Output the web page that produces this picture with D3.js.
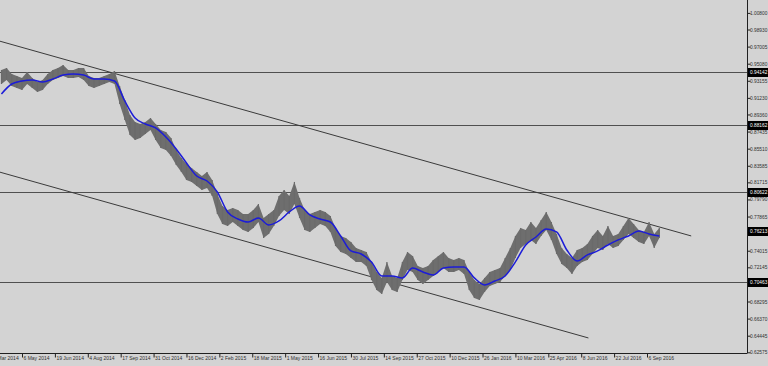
<!DOCTYPE html>
<html><head><meta charset="utf-8">
<script src="https://cdn.jsdelivr.net/npm/d3@7"></script>
<style>html,body{margin:0;padding:0;background:#d3d3d3;overflow:hidden}</style>
</head><body><svg id="c" width="768" height="366"></svg>
<script>
// ---- data (bar index: 0 = 6 May 2014, daily bars) ----
const barStart = -20, barStep = 5;
const highs = [
0.9437,0.9459,0.9392,0.9369,0.9347,0.9414,0.9347,0.9302,0.9324,0.9392,
0.9437,0.9459,0.9493,0.9437,0.9437,0.9459,0.9459,0.9369,0.9347,0.9347,
0.9369,0.9392,0.9426,0.9257,0.9099,0.8930,0.8851,0.8829,0.8851,0.8896,
0.8829,0.8761,0.8739,0.8671,0.8536,0.8446,0.8378,0.8333,0.8288,0.8243,
0.8288,0.8198,0.8041,0.7905,0.7860,0.7883,0.7860,0.7815,0.7815,0.7860,
0.7928,0.7770,0.7815,0.7860,0.8018,0.8086,0.8018,0.8176,0.7996,0.7860,
0.7815,0.7838,0.7860,0.7838,0.7793,0.7658,0.7568,0.7545,0.7500,0.7433,
0.7410,0.7387,0.7275,0.7162,0.7095,0.7275,0.7117,0.7095,0.7275,0.7387,
0.7342,0.7230,0.7207,0.7230,0.7297,0.7342,0.7387,0.7320,0.7297,0.7320,
0.7297,0.7162,0.7072,0.7027,0.7095,0.7162,0.7185,0.7207,0.7320,0.7433,
0.7568,0.7658,0.7635,0.7725,0.7658,0.7748,0.7838,0.7725,0.7590,0.7433,
0.7365,0.7320,0.7410,0.7433,0.7478,0.7568,0.7635,0.7568,0.7680,0.7568,
0.7590,0.7680,0.7770,0.7703,0.7635,0.7613,0.7725,0.7590,0.7658];
const lows = [
0.9279,0.9324,0.9257,0.9234,0.9212,0.9279,0.9234,0.9189,0.9212,0.9279,
0.9324,0.9347,0.9369,0.9347,0.9347,0.9358,0.9324,0.9257,0.9234,0.9257,
0.9279,0.9302,0.9279,0.9054,0.8874,0.8705,0.8649,0.8671,0.8716,0.8761,
0.8649,0.8559,0.8536,0.8468,0.8367,0.8288,0.8198,0.8176,0.8131,0.8086,
0.8108,0.8018,0.7815,0.7703,0.7680,0.7725,0.7680,0.7635,0.7613,0.7658,
0.7725,0.7545,0.7590,0.7680,0.7793,0.7860,0.7815,0.7928,0.7770,0.7635,
0.7613,0.7658,0.7703,0.7680,0.7613,0.7455,0.7387,0.7365,0.7320,0.7275,
0.7275,0.7230,0.7072,0.6960,0.6915,0.7050,0.6960,0.6937,0.7072,0.7185,
0.7162,0.7072,0.7027,0.7072,0.7117,0.7162,0.7207,0.7162,0.7162,0.7185,
0.7140,0.6960,0.6870,0.6847,0.6937,0.7005,0.7027,0.7050,0.7117,0.7185,
0.7320,0.7433,0.7478,0.7523,0.7478,0.7568,0.7635,0.7523,0.7365,0.7252,
0.7207,0.7140,0.7230,0.7275,0.7297,0.7365,0.7433,0.7410,0.7478,0.7433,
0.7455,0.7523,0.7590,0.7545,0.7500,0.7478,0.7568,0.7433,0.7545];
const maStart = -20, maStep = 10;
const maValues = [
0.9167,0.9279,0.9313,0.9324,0.9302,0.9335,0.9380,0.9392,0.9380,0.9335,
0.9335,0.9313,0.9088,0.8896,0.8829,0.8784,0.8682,0.8547,0.8390,0.8243,
0.8187,0.8063,0.7838,0.7759,0.7725,0.7770,0.7692,0.7737,0.7838,0.7905,
0.7804,0.7759,0.7725,0.7568,0.7399,0.7365,0.7275,0.7117,0.7117,0.7095,
0.7207,0.7162,0.7128,0.7207,0.7219,0.7219,0.7095,0.7016,0.7061,0.7117,
0.7275,0.7466,0.7556,0.7646,0.7613,0.7410,0.7286,0.7354,0.7399,0.7466,
0.7523,0.7568,0.7624,0.7590,0.7568];
const levelLines = [0.94142, 0.88162, 0.80622, 0.70463];
const lastPrice = 0.76213;
const channelUpper = [[-22, 0.9763], [651, 0.7568]];
const channelLower = [[-22, 0.8288], [551, 0.6419]];
const priceTicks = [1.008,0.9893,0.97005,0.9508,0.93155,0.9123,0.8936,0.87435,0.8551,0.83585,
  0.81715,0.7979,0.77865,0.74015,0.72145,0.68295,0.6637,0.64445,0.62575];
const timeTickBars = [-32,0,32,64,96,128,160,192,224,256,288,320,352,384,416,448,480,512,544,576,608];
const timeTickLabels = ["21 Mar 2014","6 May 2014","19 Jun 2014","4 Aug 2014","17 Sep 2014","31 Oct 2014",
  "16 Dec 2014","2 Feb 2015","18 Mar 2015","1 May 2015","16 Jun 2015","30 Jul 2015","14 Sep 2015",
  "27 Oct 2015","10 Dec 2015","26 Jan 2016","10 Mar 2016","25 Apr 2016","8 Jun 2016","22 Jul 2016","6 Sep 2016"];

// ---- layout ----
const W = 768, H = 366, plotR = 747, plotB = 353;
const FONT = "'Liberation Sans', Arial, sans-serif";
const x = d3.scaleLinear().domain([0, 608]).range([22, 647]);
const y = d3.scaleLinear().domain([0.62575, 1.008]).range([352.3, 12.9]);
const svg = d3.select("#c");
svg.append("rect").attr("width", W).attr("height", H).attr("fill", "#d3d3d3");
svg.append("clipPath").attr("id", "pc").append("rect").attr("x", 0).attr("y", 0).attr("width", plotR).attr("height", plotB);
const g = svg.append("g").attr("clip-path", "url(#pc)");

// horizontal levels
g.selectAll("line.lvl").data(levelLines).join("line").attr("class", "lvl")
  .attr("x1", 0).attr("x2", plotR).attr("y1", d => Math.round(y(d)) + 0.5).attr("y2", d => Math.round(y(d)) + 0.5)
  .attr("stroke", "#505050").attr("stroke-width", 1);

// channel lines
[channelUpper, channelLower].forEach(c => {
  g.append("line").attr("x1", x(c[0][0])).attr("y1", y(c[0][1])).attr("x2", x(c[1][0])).attr("y2", y(c[1][1]))
    .attr("stroke", "#3a3a3a").attr("stroke-width", 1);
});

// price range band + bars
const bars = highs.map((h, i) => ({ b: barStart + i * barStep, h, l: lows[i] }));
g.append("path").datum(bars)
  .attr("d", d3.area().x(d => x(d.b)).y0(d => y(d.l)).y1(d => y(d.h)))
  .attr("fill", "#6e6e6e");
g.selectAll("line.bar").data(bars).join("line").attr("class", "bar")
  .attr("x1", d => x(d.b)).attr("x2", d => x(d.b))
  .attr("y1", d => y(d.h)).attr("y2", d => y(d.l))
  .attr("stroke", "#6a6a6a").attr("stroke-width", 1.2);

// moving average
const ma = maValues.map((v, i) => [maStart + i * maStep, v]);
g.append("path").datum(ma)
  .attr("d", d3.line().x(d => x(d[0])).y(d => y(d[1])).curve(d3.curveMonotoneX))
  .attr("fill", "none").attr("stroke", "#1c1cd8").attr("stroke-width", 1.5);

// right price axis
const ya = svg.append("g").attr("transform", `translate(${plotR + 0.5},0)`)
  .call(d3.axisRight(y).tickValues(priceTicks).tickSize(3).tickFormat(d3.format(".5f")));
ya.select(".domain").attr("d", `M0,0V${plotB}`).attr("stroke", "#202020");
ya.selectAll(".tick line").attr("stroke", "#202020");
ya.selectAll(".tick text").attr("x", 2.5).attr("fill", "#303030")
  .style("font-family", FONT).style("font-size", "4.8px");

// bottom time axis
const xa = svg.append("g").attr("transform", `translate(0,${plotB + 0.5})`)
  .call(d3.axisBottom(x).tickValues(timeTickBars).tickSize(4).tickFormat((d, i) => timeTickLabels[i]));
xa.select(".domain").attr("d", `M0,0H${plotR + 0.5}`).attr("stroke", "#202020");
xa.selectAll(".tick line").attr("stroke", "#202020");
xa.selectAll(".tick text").attr("text-anchor", "start").attr("x", 1).attr("y", 3).attr("dy", "0.71em")
  .attr("fill", "#303030")
  .style("font-family", "'Liberation Sans Narrow', 'Liberation Sans', sans-serif").style("font-size", "5px");

// price label boxes
const boxes = levelLines.concat([lastPrice]);
const bg = svg.append("g");
boxes.forEach(v => {
  const yy = Math.round(y(v)) + 0.5;
  bg.append("rect").attr("x", plotR + 1).attr("y", yy - 4.5).attr("width", W - plotR - 1).attr("height", 9).attr("fill", "#000");
  bg.append("text").attr("x", plotR + 3).attr("y", yy).attr("dy", "0.35em").attr("fill", "#fff")
    .style("font-family", FONT).style("font-size", "4.8px").text(d3.format(".5f")(v));
});
</script></body></html>
